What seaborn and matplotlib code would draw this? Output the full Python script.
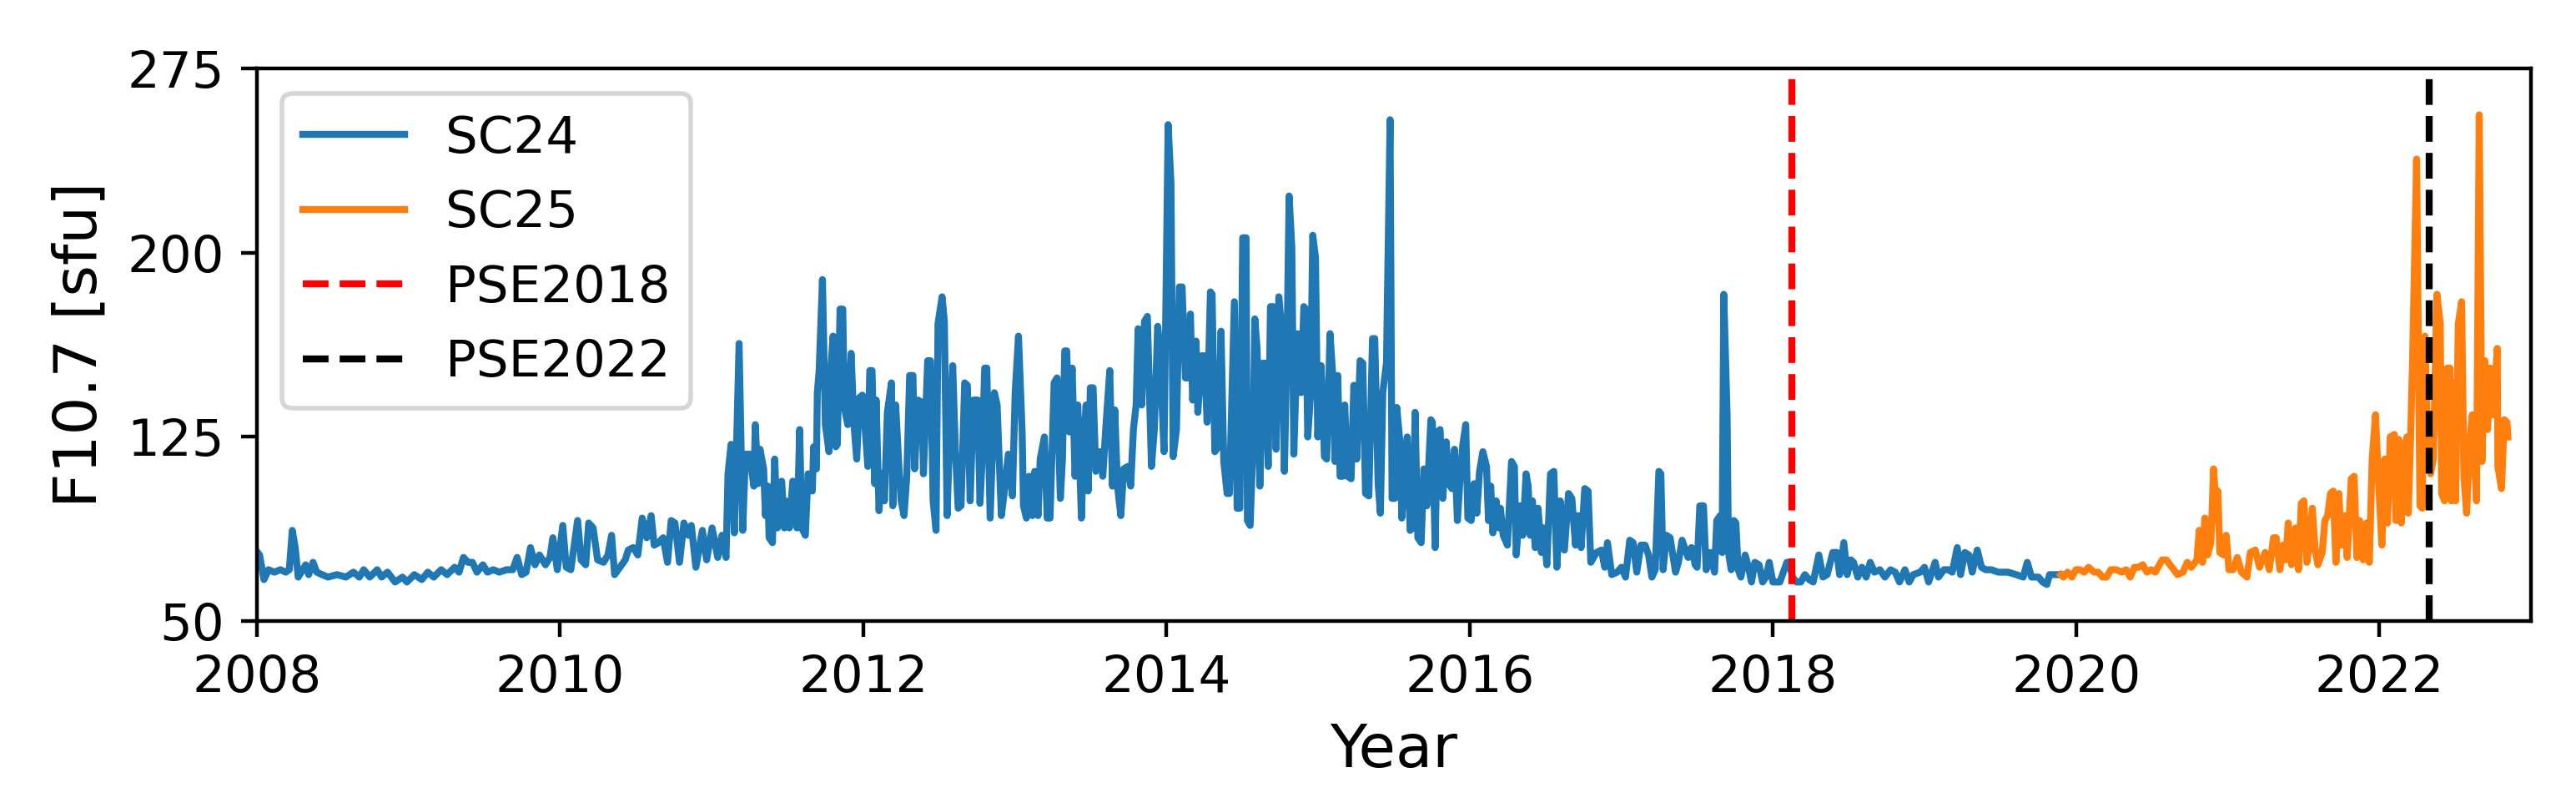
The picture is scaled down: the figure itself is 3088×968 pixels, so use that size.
import numpy as np
import pandas as pd
import matplotlib
matplotlib.use("Agg")
import matplotlib.pyplot as plt
import seaborn as sns

# ---- data (decimal year, F10.7 in sfu) ----
sc24_year_a = [2008.005, 2008.018, 2008.047, 2008.077, 2008.116, 2008.155, 2008.191, 2008.214, 2008.234, 2008.253,
               2008.273, 2008.303, 2008.322, 2008.342, 2008.371, 2008.395, 2008.430, 2008.470, 2008.528, 2008.587,
               2008.637, 2008.676, 2008.705, 2008.745, 2008.794, 2008.823, 2008.862, 2008.912, 2008.961, 2008.990,
               2009.039, 2009.088, 2009.128, 2009.167, 2009.216, 2009.255, 2009.305, 2009.334, 2009.363, 2009.393,
               2009.422, 2009.452, 2009.491, 2009.521, 2009.560, 2009.599, 2009.648, 2009.688, 2009.717, 2009.747,
               2009.776, 2009.805, 2009.835, 2009.864, 2009.904, 2009.933, 2009.953, 2009.982, 2010.018, 2010.041,
               2010.071, 2010.116, 2010.139, 2010.169, 2010.189, 2010.218, 2010.248, 2010.287, 2010.316, 2010.340,
               2010.360, 2010.395, 2010.430, 2010.450, 2010.483, 2010.513, 2010.542, 2010.572, 2010.601, 2010.621,
               2010.650, 2010.680, 2010.709, 2010.733, 2010.758, 2010.788, 2010.817, 2010.847, 2010.866, 2010.896]
sc24_flux_a = [78, 77, 67, 71, 70, 71, 70, 71, 87, 80,
               68, 71, 73, 69, 74, 70, 69, 68, 69, 68,
               70, 68, 71, 68, 71, 68, 70, 66, 68, 66,
               69, 67, 70, 68, 71, 69, 72, 70, 76, 74,
               74, 70, 73, 70, 71, 70, 71, 71, 76, 69,
               70, 80, 73, 77, 73, 76, 84, 71, 89, 72,
               71, 91, 75, 73, 90, 88, 75, 74, 77, 85,
               69, 72, 75, 79, 80, 77, 92, 84, 93, 81,
               82, 84, 74, 91, 90, 74, 90, 85, 89, 72]

sc24_year_b = [2010.939, 2010.967, 2011.003, 2011.040, 2011.068, 2011.095, 2011.108, 2011.128, 2011.150, 2011.181,
               2011.205, 2011.223, 2011.251, 2011.278, 2011.288, 2011.306, 2011.319, 2011.343, 2011.355, 2011.370,
               2011.379, 2011.401, 2011.416, 2011.434, 2011.462, 2011.480, 2011.489, 2011.513, 2011.535, 2011.563,
               2011.581, 2011.594, 2011.618, 2011.636, 2011.664, 2011.673, 2011.691, 2011.697, 2011.709, 2011.731,
               2011.750, 2011.774, 2011.783, 2011.801, 2011.819, 2011.829, 2011.847, 2011.865, 2011.875, 2011.898,
               2011.920, 2011.939, 2011.957, 2011.975, 2011.994, 2012.012, 2012.030, 2012.043, 2012.058, 2012.076,
               2012.085, 2012.104, 2012.122, 2012.140, 2012.159, 2012.186, 2012.195, 2012.214, 2012.236, 2012.250,
               2012.269, 2012.287, 2012.306, 2012.328, 2012.339, 2012.361, 2012.388, 2012.397, 2012.425, 2012.443,
               2012.461, 2012.480, 2012.493, 2012.520, 2012.535, 2012.553, 2012.571, 2012.590, 2012.608, 2012.626,
               2012.645, 2012.669, 2012.687, 2012.705, 2012.727, 2012.755, 2012.770, 2012.782, 2012.801, 2012.815,
               2012.837, 2012.865, 2012.883, 2012.911, 2012.929, 2012.957, 2012.984, 2013.002, 2013.024, 2013.048,
               2013.057, 2013.076, 2013.094, 2013.116, 2013.131, 2013.153, 2013.167, 2013.195, 2013.213, 2013.232,
               2013.259, 2013.278, 2013.300, 2013.314, 2013.329, 2013.342, 2013.360, 2013.378, 2013.397, 2013.415,
               2013.439, 2013.457, 2013.470, 2013.483, 2013.498, 2013.516, 2013.534, 2013.562]
sc24_flux_b = [87, 75, 88, 76, 85, 76, 110, 122, 86, 163,
               87, 118, 118, 105, 130, 106, 120, 112, 93, 105,
               84, 82, 116, 88, 107, 88, 99, 88, 107, 88,
               128, 88, 85, 110, 103, 121, 112, 143, 152, 189,
               130, 119, 150, 166, 121, 122, 177, 177, 137, 130,
               159, 130, 116, 141, 142, 129, 113, 152, 152, 106,
               140, 95, 110, 99, 135, 147, 97, 138, 112, 99,
               93, 109, 150, 150, 112, 140, 139, 110, 156, 156,
               99, 87, 171, 182, 172, 93, 128, 154, 119, 96,
               97, 147, 146, 99, 140, 140, 98, 113, 153, 153,
               92, 143, 138, 93, 102, 118, 101, 143, 166, 127,
               97, 92, 109, 93, 111, 93, 116, 125, 92, 92,
               147, 149, 100, 116, 160, 160, 127, 153, 109, 138,
               92, 127, 138, 103, 145, 145, 111, 119]

sc24_year_c = [2013.580, 2013.599, 2013.626, 2013.644, 2013.659, 2013.677, 2013.699, 2013.718, 2013.745, 2013.764,
               2013.782, 2013.800, 2013.813, 2013.837, 2013.855, 2013.874, 2013.901, 2013.920, 2013.942, 2013.956,
               2013.984, 2014.011, 2014.030, 2014.044, 2014.066, 2014.085, 2014.103, 2014.125, 2014.143, 2014.158,
               2014.173, 2014.195, 2014.207, 2014.231, 2014.250, 2014.268, 2014.290, 2014.301, 2014.319, 2014.341,
               2014.360, 2014.378, 2014.400, 2014.415, 2014.448, 2014.466, 2014.484, 2014.503, 2014.525, 2014.534,
               2014.552, 2014.571, 2014.583, 2014.598, 2014.616, 2014.635, 2014.653, 2014.671, 2014.686, 2014.704,
               2014.723, 2014.741, 2014.763, 2014.778, 2014.796, 2014.809, 2014.827, 2014.840, 2014.864, 2014.888,
               2014.906, 2014.919, 2014.932, 2014.950, 2014.965, 2014.983, 2014.998, 2015.020, 2015.042, 2015.057,
               2015.079, 2015.097, 2015.112, 2015.130, 2015.145, 2015.163, 2015.176, 2015.194, 2015.218, 2015.236,
               2015.255, 2015.277, 2015.295, 2015.313, 2015.335, 2015.359, 2015.374, 2015.396, 2015.411, 2015.427,
               2015.451, 2015.475, 2015.488, 2015.506, 2015.519, 2015.543, 2015.552, 2015.570, 2015.588, 2015.607,
               2015.625, 2015.640, 2015.658, 2015.680, 2015.698, 2015.717, 2015.744, 2015.754, 2015.772, 2015.787,
               2015.805, 2015.823, 2015.845, 2015.864, 2015.882, 2015.900, 2015.919, 2015.937, 2015.955, 2015.974,
               2015.988, 2016.010, 2016.029, 2016.047, 2016.065, 2016.087]
sc24_flux_c = [109, 128, 152, 105, 136, 105, 93, 112, 113, 105,
               128, 138, 169, 138, 172, 174, 113, 128, 170, 161,
               119, 252, 228, 117, 128, 186, 186, 149, 149, 175,
               140, 164, 135, 158, 158, 131, 184, 183, 119, 121,
               168, 115, 102, 102, 180, 96, 96, 206, 206, 91,
               89, 122, 173, 161, 105, 155, 155, 113, 178, 178,
               120, 182, 167, 111, 165, 223, 202, 118, 167, 143,
               178, 177, 125, 142, 207, 198, 125, 154, 117, 116,
               167, 150, 115, 150, 109, 109, 138, 109, 108, 146,
               116, 156, 155, 102, 101, 165, 165, 106, 94, 143,
               155, 254, 100, 100, 137, 121, 92, 109, 125, 87,
               88, 135, 84, 82, 112, 97, 132, 131, 80, 127,
               128, 100, 123, 106, 104, 120, 91, 108, 122, 130,
               92, 91, 106, 94, 111, 119]

sc24_year_d = [2016.111, 2016.124, 2016.139, 2016.153, 2016.175, 2016.190, 2016.203, 2016.221, 2016.249, 2016.276,
               2016.295, 2016.307, 2016.331, 2016.350, 2016.372, 2016.386, 2016.399, 2016.414, 2016.432, 2016.451,
               2016.473, 2016.487, 2016.509, 2016.533, 2016.555, 2016.575, 2016.597, 2016.625, 2016.652, 2016.674,
               2016.698, 2016.716, 2016.735, 2016.759, 2016.781, 2016.799, 2016.836, 2016.869, 2016.891, 2016.909,
               2016.937, 2016.973, 2017.001, 2017.028, 2017.056, 2017.078, 2017.102, 2017.129, 2017.157, 2017.180,
               2017.202, 2017.224, 2017.248, 2017.261, 2017.276, 2017.298, 2017.322, 2017.358, 2017.377, 2017.401,
               2017.423, 2017.441, 2017.463, 2017.487, 2017.500, 2017.518, 2017.542, 2017.560, 2017.588, 2017.615,
               2017.630, 2017.652, 2017.665, 2017.676, 2017.698, 2017.707, 2017.725, 2017.743, 2017.756, 2017.771,
               2017.789, 2017.817, 2017.835, 2017.859, 2017.881, 2017.909, 2017.932, 2017.954, 2017.976, 2018.000,
               2018.046, 2018.092, 2018.110, 2018.129, 2018.156, 2018.184, 2018.211, 2018.239, 2018.266, 2018.303,
               2018.330, 2018.358, 2018.395, 2018.422, 2018.440, 2018.468, 2018.490, 2018.514, 2018.532, 2018.560,
               2018.587, 2018.615]
sc24_flux_d = [113, 91, 105, 86, 99, 88, 96, 85, 81, 115,
               113, 77, 97, 85, 110, 105, 85, 99, 80, 96,
               78, 88, 73, 110, 111, 72, 99, 79, 102, 100,
               81, 93, 80, 104, 103, 74, 78, 79, 72, 82,
               69, 70, 72, 68, 83, 82, 70, 81, 81, 77,
               68, 71, 111, 110, 71, 85, 84, 70, 74, 83,
               79, 76, 80, 73, 72, 97, 97, 71, 78, 70,
               91, 93, 78, 183, 134, 78, 71, 91, 90, 71,
               68, 77, 73, 66, 74, 73, 66, 68, 74, 66,
               66, 74, 74, 68, 66, 66, 69, 67, 66, 77,
               68, 69, 78, 78, 69, 82, 69, 75, 74, 68,
               72, 68]

sc24_year_e = [2018.642, 2018.670, 2018.706, 2018.739, 2018.776, 2018.807, 2018.835, 2018.871, 2018.899, 2018.926,
               2018.972, 2019.000, 2019.027, 2019.070, 2019.092, 2019.128, 2019.156, 2019.183, 2019.216, 2019.238,
               2019.266, 2019.293, 2019.315, 2019.348, 2019.376, 2019.403, 2019.440, 2019.486, 2019.550, 2019.605,
               2019.651, 2019.678, 2019.706, 2019.752, 2019.779, 2019.807, 2019.825, 2019.862, 2019.889, 2019.899]
sc24_flux_e = [74, 70, 71, 68, 71, 70, 66, 71, 66, 69,
               70, 72, 66, 74, 68, 71, 71, 70, 80, 69,
               78, 77, 70, 79, 72, 71, 71, 70, 70, 69,
               68, 74, 68, 68, 66, 65, 69, 69, 69, 69]

sc25_year_a = [2019.899, 2019.917, 2019.944, 2019.972, 2019.999, 2020.027, 2020.054, 2020.082, 2020.119, 2020.146,
               2020.174, 2020.201, 2020.229, 2020.265, 2020.302, 2020.330, 2020.357, 2020.385, 2020.412, 2020.440,
               2020.467, 2020.495, 2020.522, 2020.550, 2020.568, 2020.595, 2020.632, 2020.669, 2020.705, 2020.733,
               2020.760, 2020.797, 2020.812, 2020.834, 2020.849, 2020.867, 2020.889, 2020.907, 2020.929, 2020.935,
               2020.948, 2020.972, 2020.990, 2021.008, 2021.036, 2021.063, 2021.091, 2021.127, 2021.149, 2021.182,
               2021.210, 2021.247, 2021.274, 2021.302, 2021.320, 2021.344, 2021.366, 2021.384, 2021.399, 2021.421,
               2021.448, 2021.467, 2021.485, 2021.503, 2021.522, 2021.540, 2021.558, 2021.577, 2021.595, 2021.623,
               2021.641, 2021.659, 2021.678, 2021.696, 2021.714, 2021.733, 2021.751, 2021.769, 2021.788, 2021.815,
               2021.834, 2021.852, 2021.870, 2021.894, 2021.916, 2021.934]
sc25_flux_a = [69, 68, 70, 68, 71, 71, 70, 72, 70, 70,
               68, 68, 71, 71, 70, 71, 68, 72, 72, 73,
               70, 71, 70, 73, 75, 75, 72, 69, 70, 74,
               72, 75, 87, 74, 92, 77, 82, 112, 91, 103,
               78, 77, 85, 71, 71, 76, 70, 68, 78, 79,
               72, 78, 71, 84, 84, 71, 81, 75, 90, 73,
               88, 71, 98, 99, 74, 82, 96, 79, 73, 78,
               91, 93, 102, 103, 74, 102, 81, 93, 76, 108,
               109, 76, 91, 75, 90, 74]

sc25_year_b = [2021.953, 2021.975, 2021.993, 2022.017, 2022.035, 2022.054, 2022.072, 2022.099, 2022.109, 2022.127,
               2022.145, 2022.164, 2022.182, 2022.191, 2022.206, 2022.219, 2022.246, 2022.268, 2022.283, 2022.301,
               2022.320, 2022.338, 2022.356, 2022.380, 2022.402, 2022.411, 2022.430, 2022.448, 2022.466, 2022.475,
               2022.494, 2022.503, 2022.521, 2022.543, 2022.558, 2022.576, 2022.595, 2022.613, 2022.641, 2022.659,
               2022.677, 2022.696, 2022.714, 2022.732, 2022.751, 2022.778, 2022.782, 2022.806, 2022.824, 2022.842,
               2022.848]
sc25_flux_b = [116, 134, 109, 81, 116, 90, 125, 126, 91, 124,
               90, 119, 125, 94, 124, 155, 238, 97, 96, 166,
               122, 110, 116, 183, 171, 102, 99, 153, 153, 99,
               147, 99, 171, 180, 109, 94, 122, 134, 99, 256,
               115, 156, 128, 153, 134, 161, 113, 104, 132, 131,
               125]

pse_year = [2018.123, 2022.329]
pse_labels = ["PSE2018", "PSE2022"]
pse_colors = ["red", "black"]

x_ticks = [2008, 2010, 2012, 2014, 2016, 2018, 2020, 2022]
y_ticks = [50, 125, 200, 275]

# ---- build tables ----
sc24 = pd.DataFrame({
    "Year": sc24_year_a + sc24_year_b + sc24_year_c + sc24_year_d + sc24_year_e,
    "F10.7": sc24_flux_a + sc24_flux_b + sc24_flux_c + sc24_flux_d + sc24_flux_e,
})
sc25 = pd.DataFrame({
    "Year": sc25_year_a + sc25_year_b,
    "F10.7": sc25_flux_a + sc25_flux_b,
})

fig = plt.figure(figsize=(7.72, 2.42), dpi=400)
ax = fig.add_axes([0.0997, 0.2310, 0.8828, 0.6847])

sns.lineplot(data=sc24, x="Year", y="F10.7", ax=ax, color="#1f77b4", lw=1.5,
             estimator=None, sort=False, label="SC24")
sns.lineplot(data=sc25, x="Year", y="F10.7", ax=ax, color="#ff7f0e", lw=1.5,
             estimator=None, sort=False, label="SC25")
for xv, lab, col in zip(pse_year, pse_labels, pse_colors):
    ax.axvline(xv, color=col, ls="--", lw=1.5, label=lab)

ax.set_xlim(2008, 2023)
ax.set_ylim(50, 275)
ax.set_xticks(x_ticks)
ax.set_xticklabels([str(t) for t in x_ticks])
ax.set_yticks(y_ticks)
ax.tick_params(labelsize=11)
ax.set_xlabel("Year", fontsize=13)
ax.set_ylabel("F10.7 [sfu]", fontsize=13)
ax.legend(loc="upper left", fontsize=11)

fig.savefig("out.png", dpi=400)
